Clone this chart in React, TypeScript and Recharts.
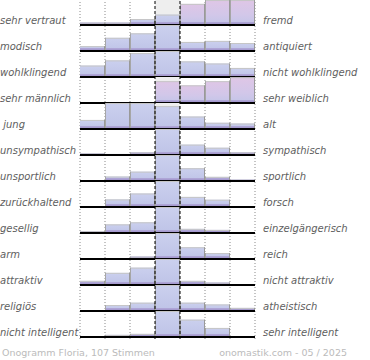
import React from 'react';
import { BarChart, Bar, XAxis, YAxis, ReferenceLine } from 'recharts';

// ---- data ----
const columns = ['1', '2', '3', '4', '5', '6', '7'];
const leftLabels = ['sehr vertraut', 'modisch', 'wohlklingend', 'sehr männlich', ' jung', 'unsympathisch', 'unsportlich', 'zurückhaltend', 'gesellig', 'arm', 'attraktiv', 'religiös', 'nicht intelligent'];
const rightLabels = ['fremd', 'antiquiert', 'nicht wohlklingend', 'sehr weiblich', 'alt', 'sympathisch', 'sportlich', 'forsch', 'einzelgängerisch', 'reich', 'nicht attraktiv', 'atheistisch', 'sehr intelligent'];

const vertrautFremd = [2.3, 2.3, 5.7, 10, 20.3, 24, 24];
const modischAntiquiert = [4.7, 12.7, 17, 25, 8.7, 9.7, 7.7];
const wohlklingend = [11, 16, 23, 25, 15, 13, 8.7];
const maennlichWeiblich = [0, 0, 0, 21, 17, 21, 24.7];
const jungAlt = [8.7, 25, 25, 22, 12, 6, 5.3];
const sympathisch = [1.5, 1, 2.5, 25, 10, 7, 2.5];
const sportlich = [0.5, 4.3, 9, 25, 12.3, 4, 1.3];
const zurueckhaltendForsch = [0.5, 7.3, 13, 25, 9.7, 7, 0.5];
const geselligEinzel = [1.7, 8.3, 10.3, 25, 4, 3, 0];
const armReich = [0, 0.7, 2.3, 25, 11.3, 5.7, 0];
const attraktiv = [4, 11.7, 16.7, 25, 4, 2.3, 0.5];
const religioesAtheistisch = [0, 5.7, 8, 25, 8, 6.3, 3];
const intelligent = [0, 2, 3, 25, 16.7, 8.7, 0];

const rows = [vertrautFremd, modischAntiquiert, wohlklingend, maennlichWeiblich, jungAlt, sympathisch, sportlich, zurueckhaltendForsch, geselligEinzel, armReich, attraktiv, religioesAtheistisch, intelligent];

const footerLeft = 'Onogramm Floria, 107 Stimmen';
const footerRight = 'onomastik.com - 05 / 2025';

// ---- style / layout ----
const W = 370;
const ROW_H = 26;
const FIRST_BASE = 25;
const M_LEFT = 80;
const M_RIGHT = 115;
const Y_MAX = 25;
const PINK_FROM: Record<number, number> = { 0: 4, 3: 3 };
const FONT = '"DejaVu Sans", Verdana, sans-serif';

function renderBar(p: any, row: number) {
  const { x, y, width, height, index } = p;
  if (height == null || height <= 0.05) return <g />;
  const pink = PINK_FROM[row] !== undefined && index >= PINK_FROM[row];
  const band = Math.min(3, height);
  return (
    <g>
      <rect x={x} y={y} width={width} height={height} fill={pink ? 'url(#gPink)' : 'url(#gBlue)'} />
      <rect x={x} y={y + height - band} width={width} height={band} fill="url(#gPurple)" />
      <line x1={x} x2={x + width} y1={y + 0.5} y2={y + 0.5} stroke="#c6c6c6" strokeWidth={1} />
      {index > 0 && <line x1={x + 0.5} x2={x + 0.5} y1={y} y2={y + height} stroke="#a6a6a6" strokeWidth={1} />}
      <line x1={x + width - 0.5} x2={x + width - 0.5} y1={y} y2={y + height} stroke="#999" strokeWidth={1} />
    </g>
  );
}

function renderBg(p: any) {
  const { x, y, width, height, index } = p;
  if (index !== 3) return <g />;
  return <rect x={x} y={y} width={width} height={height} fill="#eeeeee" />;
}

const gridData = columns.map((c) => ({ c, z: 0 }));

export default function App() {
  const totalH = FIRST_BASE + (rows.length - 1) * ROW_H + 2;
  const labelStyle: React.CSSProperties = { position: 'absolute', fontSize: 10, lineHeight: '12px', fontStyle: 'italic', color: '#606060', whiteSpace: 'pre' };
  return (
    <div style={{ position: 'absolute', left: 0, top: 0, width: W, height: 360, background: '#fff', fontFamily: FONT, overflow: 'hidden' }}>
      <svg width={0} height={0} style={{ position: 'absolute' }}>
        <defs>
          <linearGradient id="gBlue" x1="0" y1="0" x2="0" y2="1">
            <stop offset="0%" stopColor="#cbd0ee" />
            <stop offset="100%" stopColor="#bec3e7" />
          </linearGradient>
          <linearGradient id="gPink" x1="0" y1="0" x2="0" y2="1">
            <stop offset="0%" stopColor="#dfc6e6" />
            <stop offset="60%" stopColor="#d2c7e9" />
            <stop offset="100%" stopColor="#c2c5e8" />
          </linearGradient>
          <linearGradient id="gPurple" x1="0" y1="0" x2="0" y2="1">
            <stop offset="0%" stopColor="#b2aad9" />
            <stop offset="100%" stopColor="#9a8cc6" />
          </linearGradient>
        </defs>
      </svg>

      {/* dotted grid behind */}
      <div style={{ position: 'absolute', left: 0, top: 0 }}>
        <BarChart width={W} height={totalH} data={gridData} margin={{ top: 0, right: M_RIGHT, bottom: 0, left: M_LEFT }} barCategoryGap={0}>
          <XAxis dataKey="c" hide />
          <YAxis hide domain={[0, 1]} />
          <Bar dataKey="z" fill="none" isAnimationActive={false} />
          {['1', '2', '3', '6', '7'].map((c) => (
            <ReferenceLine key={c} x={c} position="start" stroke="#8a8a8a" strokeDasharray="1 2" strokeWidth={1} />
          ))}
          <ReferenceLine x="7" position="end" stroke="#8a8a8a" strokeDasharray="1 2" strokeWidth={1} />
        </BarChart>
      </div>

      {rows.map((vals, r) => {
        const data = columns.map((c, i) => ({ c, v: vals[i] }));
        return (
          <div key={r} style={{ position: 'absolute', left: 0, top: FIRST_BASE + r * ROW_H - ROW_H }}>
            <BarChart width={W} height={ROW_H + 2} data={data} margin={{ top: 0, right: M_RIGHT, bottom: 2, left: M_LEFT }} barCategoryGap={0} barGap={0}>
              <XAxis dataKey="c" hide />
              <YAxis hide domain={[0, Y_MAX]} allowDataOverflow />
              <Bar dataKey="v" isAnimationActive={false} shape={(p: any) => renderBar(p, r)} background={renderBg as any} />
              <ReferenceLine y={0} stroke="#000" strokeWidth={2} />
            </BarChart>
          </div>
        );
      })}

      {/* dashed centre lines in front */}
      <div style={{ position: 'absolute', left: 0, top: 0 }}>
        <BarChart width={W} height={totalH} data={gridData} margin={{ top: 0, right: M_RIGHT, bottom: 0, left: M_LEFT }} barCategoryGap={0}>
          <XAxis dataKey="c" hide />
          <YAxis hide domain={[0, 1]} />
          <Bar dataKey="z" fill="none" isAnimationActive={false} />
          <ReferenceLine x="4" position="start" stroke="#000" strokeDasharray="3 2" strokeWidth={1} />
          <ReferenceLine x="4" position="end" stroke="#000" strokeDasharray="3 2" strokeWidth={1} />
        </BarChart>
      </div>

      {leftLabels.map((t, r) => (
        <div key={'l' + r} style={{ ...labelStyle, left: 0, top: FIRST_BASE + r * ROW_H - 10 }}>{t}</div>
      ))}
      {rightLabels.map((t, r) => (
        <div key={'r' + r} style={{ ...labelStyle, left: 263, top: FIRST_BASE + r * ROW_H - 10 }}>{t}</div>
      ))}
      <div style={{ position: 'absolute', left: 2, top: 347, fontSize: 9.5, lineHeight: '12px', color: '#bbb', whiteSpace: 'pre' }}>{footerLeft}</div>
      <div style={{ position: 'absolute', right: 23, top: 347, fontSize: 9.5, lineHeight: '12px', color: '#bbb', whiteSpace: 'pre' }}>{footerRight}</div>
    </div>
  );
}
